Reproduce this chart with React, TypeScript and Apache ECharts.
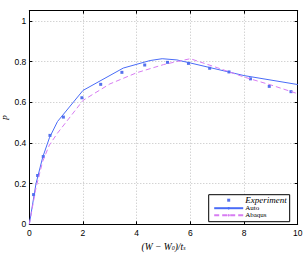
import React, { useEffect, useRef } from "react";
import * as echarts from "echarts";

const expX = [0.16, 0.31, 0.52, 0.77, 1.27, 1.96, 2.66, 3.45, 4.3, 5.15, 5.93, 6.72, 7.44, 8.24, 8.94, 9.75];
const expY = [0.146, 0.24, 0.333, 0.437, 0.527, 0.622, 0.688, 0.747, 0.783, 0.796, 0.791, 0.767, 0.749, 0.715, 0.678, 0.652];

const autoX = [0, 0.25, 0.5, 0.75, 1.05, 2, 3.5, 4.5, 4.95, 5.5, 6, 8, 10];
const autoY = [0, 0.2, 0.33, 0.425, 0.505, 0.658, 0.768, 0.805, 0.814, 0.808, 0.793, 0.731, 0.687];

const abaqusX = [0, 0.25, 0.5, 0.75, 1.05, 2, 3, 4, 5, 5.5, 6, 7, 8, 9, 10];
const abaqusY = [0, 0.18, 0.31, 0.39, 0.448, 0.609, 0.69, 0.745, 0.785, 0.8, 0.814, 0.77, 0.724, 0.685, 0.642];

const xTicks = [0, 2, 4, 6, 8, 10];
const yTicks = [0, 0.2, 0.4, 0.6, 0.8, 1];

const zip = (xs: number[], ys: number[]) => xs.map((x, i) => [x, ys[i]]);

export default function App() {
  const ref = useRef<HTMLDivElement>(null);
  useEffect(() => {
    if (!ref.current) return;
    const chart = echarts.init(ref.current, null, { renderer: "svg" });
    const tickFont = { fontFamily: "Liberation Sans", fontSize: 8.5, color: "#000" };
    const gridLine = { color: "#b0b0b0", type: [1, 2], width: 0.8 };
    chart.setOption({
      animation: false,
      grid: { left: 29.3, right: 8.3, top: 10.7, bottom: 28.7, containLabel: false, outerBoundsMode: "none" },
      xAxis: [
        {
          type: "value", min: 0, max: 10, interval: 2, position: "bottom",
          axisLine: { show: true, lineStyle: { color: "#000", width: 1 } },
          axisTick: { show: true, inside: true, length: 3, lineStyle: { color: "#000" } },
          axisLabel: { ...tickFont, margin: 4, formatter: (v: number) => (xTicks.includes(v) ? String(v) : "") },
          splitLine: { show: true, lineStyle: gridLine },
          name: "{t|(W − W}{s|0}{t|)/t}{s|s}",
          nameLocation: "middle", nameGap: 19, nameMoveOverlap: false,
          nameTextStyle: {
            lineHeight: 8,
            rich: {
              t: { fontFamily: "Liberation Serif", fontStyle: "italic", fontSize: 9.5, color: "#000", lineHeight: 8 },
              s: { fontFamily: "Liberation Serif", fontStyle: "italic", fontSize: 6, color: "#000", lineHeight: 8, verticalAlign: "bottom" },
            },
          },
        },
        {
          type: "value", min: 0, max: 10, interval: 2, position: "top",
          axisLine: { show: true, onZero: false, lineStyle: { color: "#000", width: 1 } },
          axisTick: { show: true, inside: true, length: 3, lineStyle: { color: "#000" } },
          axisLabel: { show: false }, splitLine: { show: false },
        },
      ],
      yAxis: [
        {
          type: "value", min: 0, max: 1.05, interval: 0.2, position: "left",
          axisLine: { show: true, lineStyle: { color: "#000", width: 1 } },
          axisTick: { show: true, inside: true, length: 3, lineStyle: { color: "#000" } },
          axisLabel: {
            ...tickFont, margin: 3, showMaxLabel: false,
            formatter: (v: number) => {
              const t = yTicks.find((y) => Math.abs(y - v) < 1e-6);
              return t === undefined ? "" : String(t);
            },
          },
          splitLine: { show: true, lineStyle: gridLine },
          name: "p", nameLocation: "middle", nameGap: 21, nameRotate: 90, nameMoveOverlap: false,
          nameTextStyle: { fontFamily: "Liberation Serif", fontStyle: "italic", fontSize: 9, lineHeight: 9, color: "#000" },
        },
        {
          type: "value", min: 0, max: 1.05, interval: 0.2, position: "right",
          axisLine: { show: true, onZero: false, lineStyle: { color: "#000", width: 1 } },
          axisTick: { show: true, inside: true, length: 3, lineStyle: { color: "#000" } },
          axisLabel: { show: false }, splitLine: { show: false },
        },
      ],
      legend: {
        orient: "vertical", left: 208.7, top: 194.7,
        backgroundColor: "#fff", borderColor: "#000", borderWidth: 1,
        padding: [1, 3, 3, 4.5], itemGap: 0, itemWidth: 29, itemHeight: 3,
        textStyle: { fontFamily: "Liberation Serif", fontSize: 7, color: "#000", lineHeight: 7, padding: [0, 0, 0, -3] },
        data: [
          { name: "Experiment", icon: "path://M0,0h1v1h-1z", textStyle: { fontStyle: "italic", fontSize: 9 } },
          { name: "Auto" },
          { name: "Abaqus" },
        ],
      },
      series: [
        {
          name: "Auto", type: "line", data: zip(autoX, autoY), showSymbol: false, symbol: "none",
          lineStyle: { color: "#4a6cf7", width: 1 }, itemStyle: { color: "#4a6cf7" },
        },
        {
          name: "Abaqus", type: "line", data: zip(abaqusX, abaqusY), showSymbol: false, symbol: "none",
          lineStyle: { color: "#d77cf2", width: 1, type: [5, 3] }, itemStyle: { color: "#d77cf2" },
        },
        {
          name: "Experiment", type: "scatter", data: zip(expX, expY), symbol: "rect", symbolSize: 3,
          itemStyle: { color: "#2a4de8" },
        },
      ],
    });
    return () => chart.dispose();
  }, []);
  return <div ref={ref} style={{ width: 306, height: 253, position: "absolute", left: 0, top: 0, background: "#fff" }} />;
}
